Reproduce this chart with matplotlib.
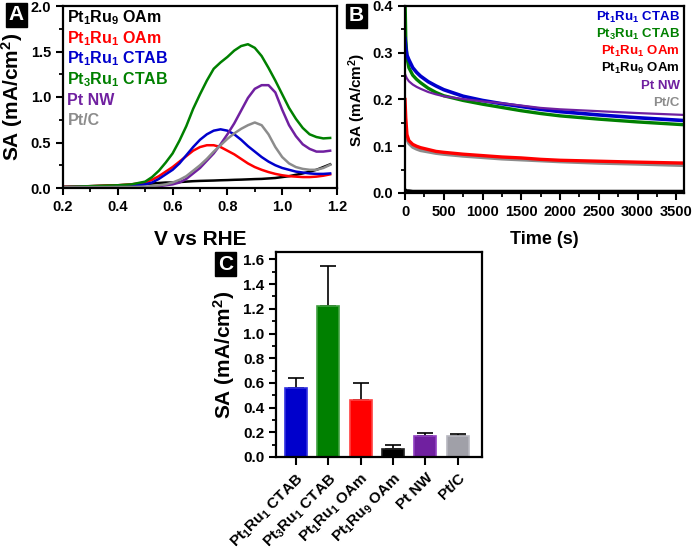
import matplotlib
matplotlib.use("Agg")
import matplotlib.pyplot as plt
from matplotlib.ticker import MultipleLocator
import numpy as np

plt.rcParams['font.family'] = ['Liberation Sans', 'DejaVu Sans']
plt.rcParams['font.weight'] = 'bold'
plt.rcParams['mathtext.fontset'] = 'custom'
plt.rcParams['mathtext.rm'] = 'Liberation Sans:bold'
plt.rcParams['mathtext.bf'] = 'Liberation Sans:bold'
plt.rcParams['mathtext.it'] = 'Liberation Sans:bold'
plt.rcParams['axes.linewidth'] = 1.6

# ---------------- data ----------------
C_BLACK = '#000000'
C_RED = '#ff0000'
C_BLUE = '#0000cc'
C_GREEN = '#008000'
C_PURPLE = '#7020a0'
C_GRAY = '#8c8c8c'

lbl_ru9 = r'Pt$_\mathbf{1}$Ru$_\mathbf{9}$ OAm'
lbl_ru1_oam = r'Pt$_\mathbf{1}$Ru$_\mathbf{1}$ OAm'
lbl_ru1_ctab = r'Pt$_\mathbf{1}$Ru$_\mathbf{1}$ CTAB'
lbl_pt3_ctab = r'Pt$_\mathbf{3}$Ru$_\mathbf{1}$ CTAB'
lbl_ptnw = 'Pt NW'
lbl_ptc = 'Pt/C'

# Panel A: CV (V vs RHE)
voltage = [0.2, 0.3, 0.4, 0.45, 0.5, 0.525, 0.55, 0.575, 0.6, 0.625, 0.65, 0.675,
           0.7, 0.725, 0.75, 0.775, 0.8, 0.825, 0.85, 0.875, 0.9, 0.925, 0.95, 0.975,
           1.0, 1.025, 1.05, 1.075, 1.1, 1.125, 1.15, 1.175]
cv_ru9_oam = [0.01, 0.02, 0.03, 0.035, 0.045, 0.05, 0.055, 0.06, 0.06, 0.065, 0.07, 0.075,
              0.078, 0.08, 0.082, 0.085, 0.087, 0.09, 0.092, 0.095, 0.098, 0.1, 0.105, 0.11,
              0.12, 0.13, 0.145, 0.16, 0.18, 0.2, 0.23, 0.26]
cv_ru1_oam = [0.015, 0.02, 0.03, 0.04, 0.06, 0.09, 0.13, 0.18, 0.23, 0.29, 0.35, 0.41,
              0.45, 0.47, 0.47, 0.45, 0.41, 0.37, 0.32, 0.27, 0.23, 0.2, 0.175, 0.155,
              0.14, 0.13, 0.125, 0.12, 0.12, 0.125, 0.135, 0.15]
cv_ru1_ctab = [0.01, 0.015, 0.02, 0.025, 0.04, 0.06, 0.1, 0.15, 0.2, 0.27, 0.36, 0.45,
               0.53, 0.59, 0.63, 0.645, 0.63, 0.59, 0.53, 0.46, 0.40, 0.34, 0.29, 0.25,
               0.22, 0.2, 0.18, 0.17, 0.16, 0.155, 0.155, 0.16]
cv_pt3_ctab = [0.01, 0.02, 0.03, 0.04, 0.07, 0.12, 0.19, 0.28, 0.38, 0.52, 0.68, 0.87,
               1.03, 1.18, 1.31, 1.38, 1.44, 1.51, 1.56, 1.58, 1.54, 1.45, 1.32, 1.18,
               1.03, 0.88, 0.76, 0.66, 0.59, 0.56, 0.545, 0.55]
cv_ptnw = [0.005, 0.005, 0.01, 0.01, 0.01, 0.01, 0.02, 0.03, 0.04, 0.06, 0.10, 0.16,
           0.22, 0.30, 0.38, 0.48, 0.59, 0.71, 0.85, 0.99, 1.09, 1.13, 1.13, 1.05,
           0.86, 0.69, 0.57, 0.48, 0.43, 0.40, 0.40, 0.41]
cv_ptc = [0.01, 0.01, 0.01, 0.01, 0.015, 0.02, 0.03, 0.04, 0.06, 0.09, 0.13, 0.19,
          0.25, 0.32, 0.40, 0.47, 0.54, 0.60, 0.65, 0.69, 0.72, 0.69, 0.59, 0.45,
          0.34, 0.27, 0.23, 0.21, 0.2, 0.2, 0.22, 0.255]

# Panel B: chronoamperometry
time_s = [0, 10, 25, 50, 100, 150, 200, 300, 400, 500, 750, 1000, 1250, 1500, 1750,
          2000, 2500, 3000, 3600]
ca_ru1_ctab = [0.33, 0.31, 0.295, 0.285, 0.268, 0.258, 0.25, 0.238, 0.229, 0.221, 0.207,
               0.198, 0.191, 0.185, 0.179, 0.174, 0.167, 0.161, 0.155]
ca_pt3_ctab = [0.42, 0.33, 0.29, 0.268, 0.252, 0.243, 0.236, 0.224, 0.215, 0.208, 0.198,
               0.19, 0.183, 0.176, 0.17, 0.165, 0.158, 0.152, 0.146]
ca_ru1_oam = [0.2, 0.16, 0.125, 0.112, 0.104, 0.10, 0.097, 0.093, 0.089, 0.087, 0.083,
              0.08, 0.077, 0.075, 0.072, 0.07, 0.068, 0.066, 0.064]
ca_ru9_oam = [0.008, 0.006, 0.005, 0.005, 0.004, 0.004, 0.004, 0.004, 0.004, 0.004, 0.004,
              0.004, 0.004, 0.004, 0.004, 0.004, 0.004, 0.004, 0.004]
ca_ptnw = [0.255, 0.25, 0.245, 0.239, 0.232, 0.227, 0.223, 0.216, 0.211, 0.207, 0.201,
           0.196, 0.192, 0.187, 0.182, 0.179, 0.175, 0.171, 0.167]
ca_ptc = [0.17, 0.135, 0.115, 0.106, 0.098, 0.094, 0.091, 0.088, 0.085, 0.083, 0.079,
          0.076, 0.073, 0.071, 0.069, 0.067, 0.064, 0.062, 0.059]

# Panel C: bar chart
bar_labels = [r'Pt$_\mathbf{1}$Ru$_\mathbf{1}$ CTAB', r'Pt$_\mathbf{3}$Ru$_\mathbf{1}$ CTAB',
              r'Pt$_\mathbf{1}$Ru$_\mathbf{1}$ OAm', r'Pt$_\mathbf{1}$Ru$_\mathbf{9}$ OAm',
              'Pt NW', 'Pt/C']
bar_values = [0.56, 1.22, 0.46, 0.065, 0.17, 0.17]
bar_errors = [0.08, 0.33, 0.14, 0.035, 0.025, 0.02]
bar_colors = [C_BLUE, C_GREEN, C_RED, C_BLACK, C_PURPLE, '#a0a0a8']
bar_edges = ['#3030e0', '#40a040', '#ff4040', '#202020', '#9040c0', '#b8b8c0']

# ---------------- figure ----------------
W, H = 693, 550
fig = plt.figure(figsize=(W / 100, H / 100), dpi=100)


def rect(l, t, r, b):
    return [l / W, 1 - b / H, (r - l) / W, (b - t) / H]


def style_ticks(ax, size=10):
    ax.tick_params(which='major', direction='out', length=5, width=1.5, labelsize=size)
    ax.tick_params(which='minor', direction='out', length=3, width=1.3)
    for lab in ax.get_xticklabels() + ax.get_yticklabels():
        lab.set_fontweight('bold')


# ---- Panel A ----
axA = fig.add_axes(rect(63, 6, 337, 188))
seriesA = [(cv_ru9_oam, C_BLACK, lbl_ru9), (cv_ru1_oam, C_RED, lbl_ru1_oam),
           (cv_ru1_ctab, C_BLUE, lbl_ru1_ctab), (cv_pt3_ctab, C_GREEN, lbl_pt3_ctab),
           (cv_ptnw, C_PURPLE, lbl_ptnw), (cv_ptc, C_GRAY, lbl_ptc)]
for ys, c, lab in seriesA:
    axA.plot(voltage, ys, color=c, lw=1.8)
axA.set_xlim(0.2, 1.2)
axA.set_ylim(0, 2.0)
axA.xaxis.set_major_locator(MultipleLocator(0.2))
axA.xaxis.set_minor_locator(MultipleLocator(0.1))
axA.yaxis.set_major_locator(MultipleLocator(0.5))
axA.yaxis.set_minor_locator(MultipleLocator(0.25))
axA.set_xticks(np.arange(0.2, 1.21, 0.2))
axA.set_xticklabels(['0.2', '0.4', '0.6', '0.8', '1.0', '1.2'])
style_ticks(axA, 10.5)
axA.set_xlabel('V vs RHE', fontsize=15, fontweight='bold', labelpad=12)
axA.set_ylabel('SA (mA/cm$^\\mathbf{2}$)', fontsize=15, fontweight='bold', labelpad=4)
for i, (ys, c, lab) in enumerate(seriesA):
    axA.text(0.016, 0.935 - i * 0.113, lab, color=c, transform=axA.transAxes,
             fontsize=11.5, fontweight='bold', va='center', ha='left')

# ---- Panel B ----
axB = fig.add_axes(rect(405, 6, 684, 193))
seriesB = [(ca_ru1_ctab, C_BLUE, lbl_ru1_ctab), (ca_pt3_ctab, C_GREEN, lbl_pt3_ctab),
           (ca_ru1_oam, C_RED, lbl_ru1_oam), (ca_ru9_oam, C_BLACK, lbl_ru9),
           (ca_ptnw, C_PURPLE, lbl_ptnw), (ca_ptc, C_GRAY, lbl_ptc)]
draw_order = [ca_ru9_oam, ca_ptc, ca_ru1_oam, ca_pt3_ctab, ca_ru1_ctab, ca_ptnw]
colors_order = [C_BLACK, C_GRAY, C_RED, C_GREEN, C_BLUE, C_PURPLE]
widths = [2.0, 2.4, 2.4, 2.4, 2.6, 1.6]
for ys, c, w in zip(draw_order, colors_order, widths):
    axB.plot(time_s, ys, color=c, lw=w)
axB.set_xlim(0, 3600)
axB.set_ylim(0, 0.4)
axB.xaxis.set_major_locator(MultipleLocator(500))
axB.xaxis.set_minor_locator(MultipleLocator(250))
axB.yaxis.set_major_locator(MultipleLocator(0.1))
axB.yaxis.set_minor_locator(MultipleLocator(0.05))
style_ticks(axB, 10.5)
axB.set_xlabel('Time (s)', fontsize=13, fontweight='bold', labelpad=9)
axB.set_ylabel('SA (mA/cm$^\\mathbf{2}$)', fontsize=11, fontweight='bold', labelpad=3)
for i, (ys, c, lab) in enumerate(seriesB):
    axB.text(0.985, 0.94 - i * 0.092, lab, color=c, transform=axB.transAxes,
             fontsize=9.5, fontweight='bold', va='center', ha='right')

# ---- Panel C ----
axC = fig.add_axes(rect(276, 252, 482, 457))
xpos = np.arange(len(bar_values))
axC.bar(xpos, bar_values, width=0.68, color=bar_colors, edgecolor=bar_edges, linewidth=1.2,
        zorder=2)
axC.errorbar(xpos, bar_values, yerr=[np.zeros(len(bar_errors)), bar_errors], fmt='none',
             ecolor='black', elinewidth=1.2, capsize=6, capthick=1.2, zorder=1)
axC.set_xlim(-0.62, 5.75)
axC.set_ylim(0, 1.66)
axC.yaxis.set_major_locator(MultipleLocator(0.2))
axC.yaxis.set_minor_locator(MultipleLocator(0.1))
axC.set_xticks(xpos)
axC.set_xticklabels(bar_labels, rotation=45, ha='right', rotation_mode='anchor',
                    fontsize=11, fontweight='bold')
style_ticks(axC, 11)
axC.tick_params(axis='x', length=6, pad=4)
axC.set_ylabel('SA (mA/cm$^\\mathbf{2}$)', fontsize=15, fontweight='bold', labelpad=4)

# ---- panel letters ----
for txt, (cx, cy) in [('A', (16.5, 14.5)), ('B', (356.5, 15.5)), ('C', (225.5, 264))]:
    fig.text(cx / W, 1 - cy / H, txt, color='white', fontsize=15, fontweight='bold',
             ha='center', va='center',
             bbox=dict(boxstyle='square,pad=0.12', facecolor='black', edgecolor='black'))

fig.savefig('out.png', dpi=100)
